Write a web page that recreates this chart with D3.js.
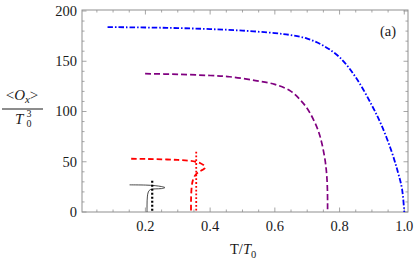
<!DOCTYPE html>
<html>
<head>
<meta charset="utf-8">
<script src="https://cdn.jsdelivr.net/npm/d3@7"></script>
<style>
  body { margin: 0; background: white; }
  svg { display: block; }
  text { font-family: "Liberation Serif", "DejaVu Serif", serif; fill: #1a1a1a; }
</style>
</head>
<body>
<div id="chart"></div>
<script>
// ---- data (T/T0, <Ox>/T0^3) ----
const blueT = [0.083, 0.2, 0.3, 0.4, 0.5, 0.6, 0.65, 0.7, 0.75, 0.8, 0.85, 0.9, 0.93, 0.96, 0.98, 0.993, 1.0];
const blueO = [184, 183.6, 183, 182, 180.5, 178, 176, 172.5, 165.5, 154, 134, 106, 86, 61, 40, 23, 0];

const purpleT = [0.199, 0.3, 0.4, 0.46, 0.54, 0.6, 0.65, 0.68, 0.7, 0.72, 0.735, 0.745, 0.755, 0.76, 0.7625, 0.763];
const purpleO = [137.6, 137, 135.8, 134.6, 130.8, 127, 120, 111, 103, 91.5, 80, 68.6, 52, 38, 22, 0];

const redT = [0.156, 0.2, 0.25, 0.3, 0.335, 0.355, 0.37, 0.382, 0.384, 0.377, 0.365, 0.355, 0.347, 0.343, 0.341, 0.341];
const redO = [53, 52.8, 52.4, 51.8, 51, 50, 48.5, 46, 44, 42, 40, 37, 32, 25, 12, 0];

const blackT = [0.151, 0.2, 0.23, 0.25, 0.26, 0.25, 0.23, 0.215, 0.209, 0.206, 0.205, 0.205];
const blackO = [27, 26.8, 26.2, 25.3, 24.3, 23.3, 23, 22.3, 20, 15, 7, 0];

// vertical dotted lines
const redDotT = [0.357, 0.357];
const redDotO = [60, 0];
const blackDotT = [0.221, 0.221];
const blackDotO = [31, 0];

const xTicks = [0.2, 0.4, 0.6, 0.8, 1.0];
const xTickLabels = ["0.2", "0.4", "0.6", "0.8", "1.0"];
const yTicks = [0, 50, 100, 150, 200];

// ---- layout ----
const width = 415, height = 261;
const frame = { left: 82, right: 408, top: 10, bottom: 212 };
const frameColor = "#8f8f8f";

const svg = d3.select("#chart").append("svg")
    .attr("width", width)
    .attr("height", height);

const x = d3.scaleLinear().domain([0.004, 1.0115]).range([frame.left, frame.right]);
const y = d3.scaleLinear().domain([0, 201]).range([frame.bottom, frame.top]);

function zip(ts, os) {
    return ts.map((t, i) => [t, os[i]]);
}

const line = d3.line()
    .x(d => x(d[0]))
    .y(d => y(d[1]))
    .curve(d3.curveCatmullRom.alpha(0.5));

const straight = d3.line().x(d => x(d[0])).y(d => y(d[1]));

// ---- frame and ticks (inside, on all four sides) ----
function drawFrame() {
    const g = svg.append("g").attr("class", "frame");

    const xMinor = d3.range(0.05, 1.01, 0.05).filter(v => !xTicks.some(t => Math.abs(t - v) < 1e-6));
    const yMinor = d3.range(10, 201, 10).filter(v => !yTicks.includes(v));

    const majorLen = 4.5, minorLen = 2.5;

    xTicks.forEach(v => {
        g.append("line").attr("x1", x(v)).attr("x2", x(v)).attr("y1", frame.bottom).attr("y2", frame.bottom - majorLen);
        g.append("line").attr("x1", x(v)).attr("x2", x(v)).attr("y1", frame.top).attr("y2", frame.top + majorLen);
    });
    xMinor.forEach(v => {
        g.append("line").attr("x1", x(v)).attr("x2", x(v)).attr("y1", frame.bottom).attr("y2", frame.bottom - minorLen);
        g.append("line").attr("x1", x(v)).attr("x2", x(v)).attr("y1", frame.top).attr("y2", frame.top + minorLen);
    });
    yTicks.forEach(v => {
        g.append("line").attr("y1", y(v)).attr("y2", y(v)).attr("x1", frame.left).attr("x2", frame.left + majorLen);
        g.append("line").attr("y1", y(v)).attr("y2", y(v)).attr("x1", frame.right).attr("x2", frame.right - majorLen);
    });
    yMinor.forEach(v => {
        g.append("line").attr("y1", y(v)).attr("y2", y(v)).attr("x1", frame.left).attr("x2", frame.left + minorLen);
        g.append("line").attr("y1", y(v)).attr("y2", y(v)).attr("x1", frame.right).attr("x2", frame.right - minorLen);
    });

    g.selectAll("line").attr("stroke", frameColor).attr("stroke-width", 0.8);

    g.append("rect")
        .attr("x", frame.left).attr("y", frame.top)
        .attr("width", frame.right - frame.left)
        .attr("height", frame.bottom - frame.top)
        .attr("fill", "none")
        .attr("stroke", frameColor)
        .attr("stroke-width", 1);

    // tick labels
    g.selectAll(".xl")
        .data(xTicks)
        .join("text")
        .attr("x", d => x(d))
        .attr("y", frame.bottom + 19)
        .attr("text-anchor", "middle")
        .style("font-size", "14.5px")
        .text((d, i) => xTickLabels[i]);

    g.selectAll(".yl")
        .data(yTicks)
        .join("text")
        .attr("x", frame.left - 5)
        .attr("y", d => y(d))
        .attr("dy", "0.34em")
        .attr("text-anchor", "end")
        .style("font-size", "14.5px")
        .text(d => d);
}

// ---- curves ----
function drawCurve(ts, os, color, dash, w, curved) {
    svg.append("path")
        .attr("d", (curved ? line : straight)(zip(ts, os)))
        .attr("fill", "none")
        .attr("stroke", color)
        .attr("stroke-width", w)
        .attr("stroke-dasharray", dash)
        .attr("stroke-linejoin", "round");
}

function drawLabels() {
    // x label  T/T0
    const xl = svg.append("text")
        .attr("x", 230)
        .attr("y", 254)
        .style("font-size", "14.5px");
    xl.append("tspan").text("T/");
    xl.append("tspan").style("font-style", "italic").text("T");
    xl.append("tspan").attr("dy", 3.5).style("font-size", "10.5px").text("0");

    // y label  <Ox> / T0^3
    const num = svg.append("text")
        .attr("x", 22)
        .attr("y", 100)
        .attr("text-anchor", "middle")
        .style("font-size", "15px");
    num.append("tspan").text("<");
    num.append("tspan").style("font-style", "italic").text("O");
    num.append("tspan").attr("dy", 3).style("font-style", "italic").style("font-size", "11px").text("x");
    num.append("tspan").attr("dy", -3).text(">");

    svg.append("line")
        .attr("x1", 2).attr("x2", 43)
        .attr("y1", 109).attr("y2", 109)
        .attr("stroke", "#1a1a1a")
        .attr("stroke-width", 1);

    svg.append("text")
        .attr("x", 15)
        .attr("y", 123.5)
        .style("font-size", "15px")
        .style("font-style", "italic")
        .text("T");
    svg.append("text")
        .attr("x", 26.5)
        .attr("y", 126.5)
        .style("font-size", "10px")
        .text("0");
    svg.append("text")
        .attr("x", 26.5)
        .attr("y", 117)
        .style("font-size", "10px")
        .text("3");

    svg.append("text")
        .attr("x", 388)
        .attr("y", 36)
        .attr("text-anchor", "middle")
        .style("font-size", "14.5px")
        .text("(a)");
}

drawFrame();
drawCurve(blueT, blueO, "#0000ff", "5.5,2,1.5,2", 1.8, true);
drawCurve(purpleT, purpleO, "#800080", "6,3", 1.7, true);
drawCurve(redT, redO, "#ff0000", "5.5,3", 1.8, true);
drawCurve(redDotT, redDotO, "#ff0000", "1.8,2", 1.8, false);
drawCurve(blackT, blackO, "#1a1a1a", null, 0.8, true);
drawCurve(blackDotT, blackDotO, "#000000", "2,2", 2.2, false);
drawLabels();
</script>
</body>
</html>
